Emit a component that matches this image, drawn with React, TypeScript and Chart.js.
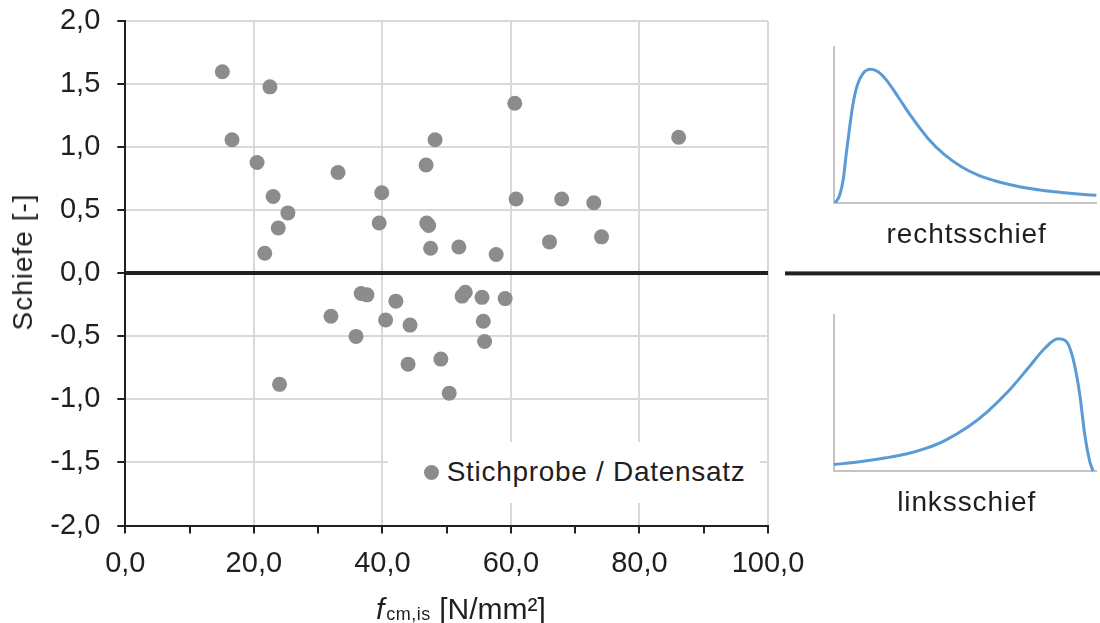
import React, { useEffect, useRef } from "react";
import { Chart, registerables } from "chart.js";

Chart.register(...registerables);

const FONT = "'Liberation Sans', Arial, Helvetica, sans-serif";
const TEXT = "#1f1f1f";
const AXIS = "#231f20";
const GRID = "#d9d9d9";
const POINT = "#8c8c8c";
const CURVE = "#5b9bd5";

// Main scatter: f_cm,is [N/mm²] vs. Schiefe [-]
const strengthX = [
  15.1, 22.5, 16.6, 20.5, 33.1, 39.9, 23.0, 25.3, 23.8, 39.5, 21.7, 60.6, 86.1, 48.2,
  46.8, 60.8, 67.9, 72.9, 46.9, 47.2, 47.5, 51.9, 57.7, 66.0, 74.1, 36.7, 37.6, 42.1,
  32.0, 40.5, 35.9, 24.0, 44.3, 52.4, 52.9, 55.5, 59.1, 55.7, 55.9, 44.0, 49.1, 50.4,
];
const skewY = [
  1.6, 1.48, 1.06, 0.88, 0.8, 0.64, 0.61, 0.48, 0.36, 0.4, 0.16, 1.35, 1.08, 1.06,
  0.86, 0.59, 0.59, 0.56, 0.4, 0.38, 0.2, 0.21, 0.15, 0.25, 0.29, -0.16, -0.17, -0.22,
  -0.34, -0.37, -0.5, -0.88, -0.41, -0.18, -0.15, -0.19, -0.2, -0.38, -0.54, -0.72, -0.68, -0.95,
];
const xLabeledTicks = [0, 20, 40, 60, 80, 100];
const seriesLabel = "Stichprobe / Datensatz";

// Sketch curves
const rightSkewX = [
  0.6, 2.3, 3.6, 4.8, 6.1, 7.4, 9.0, 11.2, 14.0, 16.9, 20.1, 24.5, 29.6, 35.9, 42.3, 48.6,
  55.0, 61.3, 67.7, 74.0, 80.4, 86.7, 93.0, 100,
];
const rightSkewY = [
  0, 4.9, 14.5, 31.6, 48.7, 63.7, 75.4, 82.9, 85.5, 84.0, 78.6, 67.9, 55.1, 41.2, 30.6, 23.1,
  17.7, 14.1, 11.3, 9.2, 7.7, 6.6, 5.6, 4.7,
];
const leftSkewX = [0, 10.5, 20.0, 28.0, 35.0, 42.3, 51.2, 58.8, 66.4, 74.0, 80.4, 85.4, 88.6, 91.1, 93.7, 95.6, 97.5, 98.8];
const leftSkewY = [4.3, 6.2, 8.6, 11.2, 14.6, 19.6, 28.4, 38.5, 50.9, 65.8, 78.6, 84.6, 82.9, 72.2, 49.1, 23.5, 6.4, 0];

const fmt = (v: number) => (Math.round(v * 10) / 10).toFixed(1).replace(".", ",");

const zeroExtension = {
  id: "zeroExtension",
  afterDraw(chart: any) {
    const y = chart.scales.y.getPixelForValue(0);
    const ctx = chart.ctx;
    ctx.save();
    ctx.fillStyle = AXIS;
    ctx.fillRect(785, y - 2, chart.width - 785, 4);
    ctx.restore();
  },
};

function makeMini(canvas: HTMLCanvasElement, xs: number[], ys: number[], padBottom: number) {
  return new Chart(canvas, {
    type: "line",
    data: {
      datasets: [
        {
          data: xs.map((x, i) => ({ x, y: ys[i] })),
          borderColor: CURVE,
          borderWidth: 3,
          pointRadius: 0,
          cubicInterpolationMode: "monotone",
          fill: false,
          clip: 6,
        } as any,
      ],
    },
    options: {
      responsive: false,
      animation: false,
      events: [],
      layout: { padding: { left: 5.7, right: 3.7, top: 6.7, bottom: padBottom } },
      plugins: { legend: { display: false }, tooltip: { enabled: false } },
      scales: {
        x: {
          type: "linear",
          min: 0,
          max: 100,
          ticks: { display: false },
          grid: { display: false, drawTicks: false },
          border: { display: true, color: "#c4c4c4", width: 2 },
          afterFit: (s: any) => {
            s.height = 0;
            s.paddingLeft = 0;
            s.paddingRight = 0;
          },
        },
        y: {
          type: "linear",
          min: 0,
          max: 100,
          ticks: { display: false },
          grid: { display: false, drawTicks: false },
          border: { display: true, color: "#c4c4c4", width: 2 },
          afterFit: (s: any) => {
            s.width = 0;
            s.paddingTop = 0;
            s.paddingBottom = 0;
          },
        },
      },
    } as any,
  });
}

export default function App() {
  const mainRef = useRef<HTMLCanvasElement>(null);
  const topRef = useRef<HTMLCanvasElement>(null);
  const botRef = useRef<HTMLCanvasElement>(null);

  useEffect(() => {
    const main = new Chart(mainRef.current as HTMLCanvasElement, {
      type: "scatter",
      data: {
        datasets: [
          {
            label: seriesLabel,
            data: strengthX.map((x, i) => ({ x, y: skewY[i] })),
            backgroundColor: POINT,
            borderWidth: 0,
            pointRadius: 7.5,
            pointHoverRadius: 7.5,
          },
        ],
      },
      options: {
        responsive: false,
        animation: false,
        events: [],
        layout: { padding: { left: 0, top: 21.3, right: 332, bottom: 0 } },
        plugins: { legend: { display: false }, tooltip: { enabled: false } },
        scales: {
          x: {
            type: "linear",
            min: 0,
            max: 100,
            ticks: {
              stepSize: 10,
              autoSkip: false,
              maxRotation: 0,
              padding: 13,
              color: TEXT,
              font: { size: 29, family: FONT },
              callback: (v: any) => (xLabeledTicks.includes(Number(v)) ? fmt(Number(v)) : ""),
            },
            grid: {
              color: (c: any) => (c.tick && xLabeledTicks.includes(c.tick.value) ? GRID : "rgba(0,0,0,0)"),
              lineWidth: 2,
              tickLength: 8,
              tickColor: AXIS,
              tickWidth: 2,
            },
            border: { color: AXIS, width: 2 },
            afterFit: (s: any) => {
              s.height = 97.5;
              s.paddingLeft = 0;
              s.paddingRight = 0;
            },
          },
          y: {
            type: "linear",
            min: -2,
            max: 2,
            ticks: {
              stepSize: 0.5,
              padding: 17,
              color: TEXT,
              font: { size: 29, family: FONT },
              callback: (v: any) => fmt(Number(v)),
            },
            grid: {
              color: (c: any) => (c.tick && Math.abs(c.tick.value) < 1e-9 ? AXIS : GRID),
              lineWidth: (c: any) => (c.tick && Math.abs(c.tick.value) < 1e-9 ? 4 : 2),
              tickLength: 8,
              tickColor: AXIS,
              tickWidth: 2,
            },
            border: { color: AXIS, width: 2 },
            afterFit: (s: any) => {
              s.width = 125.3;
              s.paddingTop = 0;
              s.paddingBottom = 0;
            },
          },
        },
      } as any,
      plugins: [zeroExtension],
    });
    const top = makeMini(topRef.current as HTMLCanvasElement, rightSkewX, rightSkewY, 7.3);
    const bot = makeMini(botRef.current as HTMLCanvasElement, leftSkewX, leftSkewY, 6.7);
    return () => {
      main.destroy();
      top.destroy();
      bot.destroy();
    };
  }, []);

  const abs = (s: React.CSSProperties): React.CSSProperties => ({ position: "absolute", ...s });

  return (
    <div
      style={{
        position: "absolute",
        left: 0,
        top: 0,
        width: 1100,
        height: 623,
        background: "#fff",
        overflow: "hidden",
        fontFamily: FONT,
        color: TEXT,
      }}
    >
      <canvas ref={mainRef} width={1100} height={623} style={abs({ left: 0, top: 0, width: 1100, height: 623 })} />
      <canvas ref={topRef} width={272} height={170} style={abs({ left: 828, top: 40, width: 272, height: 170 })} />
      <canvas ref={botRef} width={272} height={170} style={abs({ left: 828, top: 308, width: 272, height: 170 })} />

      {/* y axis title */}
      <div
        style={abs({
          left: 23,
          top: 261.7,
          fontSize: 28,
          lineHeight: "28px",
          letterSpacing: "1px",
          whiteSpace: "nowrap",
          transform: "translate(-50%, -50%) rotate(-90deg)",
        })}
      >
        Schiefe [-]
      </div>

      {/* x axis title */}
      <div style={abs({ left: 376, top: 594, fontSize: 30, lineHeight: "30px", whiteSpace: "nowrap" })}>
        <i>f</i>
        <span style={{ fontSize: 18, position: "relative", top: 1, marginLeft: 2, letterSpacing: "0.5px" }}>cm,is</span> [N/mm²]
      </div>

      {/* legend */}
      <div style={abs({ left: 388, top: 442, width: 372, height: 61, background: "#fff" })} />
      <div
        style={abs({ left: 424.2, top: 464.8, width: 15, height: 15, borderRadius: "50%", background: POINT })}
      />
      <div
        style={abs({
          left: 446.7,
          top: 458,
          fontSize: 28,
          lineHeight: "28px",
          letterSpacing: "0.7px",
          whiteSpace: "nowrap",
        })}
      >
        {seriesLabel}
      </div>

      {/* sketch labels */}
      <div
        style={abs({
          left: 830.7,
          top: 220.3,
          width: 272,
          textAlign: "center",
          fontSize: 28,
          lineHeight: "28px",
          letterSpacing: "0.9px",
        })}
      >
        rechtsschief
      </div>
      <div
        style={abs({
          left: 830.7,
          top: 488.3,
          width: 272,
          textAlign: "center",
          fontSize: 28,
          lineHeight: "28px",
          letterSpacing: "0.9px",
        })}
      >
        linksschief
      </div>
    </div>
  );
}
